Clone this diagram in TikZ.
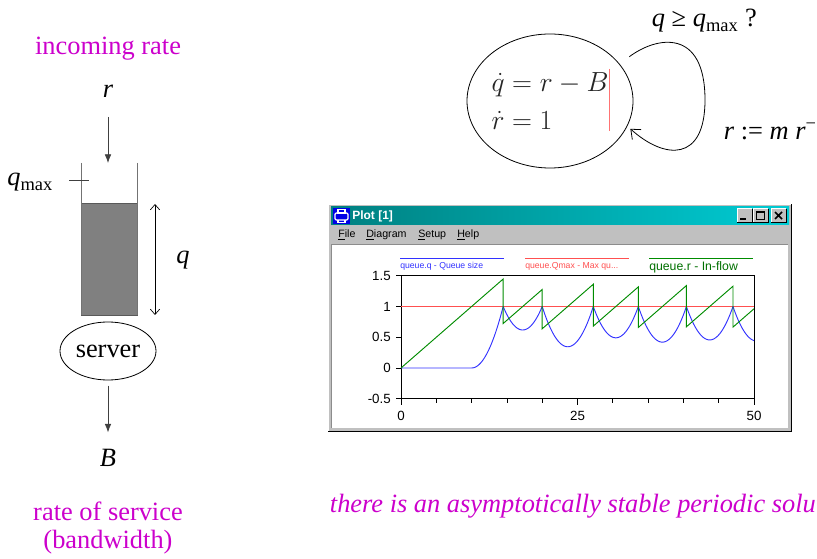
\documentclass[tikz,border=0pt]{standalone}
\usepackage[no-math]{fontspec}
\setmainfont{Liberation Serif}
\newfontfamily\uifont{Liberation Sans}
\usetikzlibrary{arrows.meta, positioning, shapes.geometric}
\definecolor{slidemag}{RGB}{204,0,204}
\definecolor{wingray}{RGB}{192,192,192}
\definecolor{titleteal}{RGB}{0,128,128}
\definecolor{titlecyan}{RGB}{0,204,212}
\definecolor{iconblue}{RGB}{0,0,230}
\definecolor{plotblue}{RGB}{50,50,255}
\definecolor{plotred}{RGB}{255,80,80}
\definecolor{plotgreen}{RGB}{0,140,0}
\newcommand{\bigtxt}{\fontsize{19.8}{21}\selectfont}
\newcommand{\eqtxt}{\fontsize{20.74}{29}\selectfont}

\begin{document}
\begin{tikzpicture}[x=0.75pt, y=-0.75pt,
    lbl/.style={text=slidemag, font=\bigtxt, inner sep=2pt, align=center},
    txt/.style={font=\bigtxt, inner sep=2pt},
    arr/.style={-{Latex[length=6.5pt, width=5pt]}, draw=black!75, line width=0.6pt},
    dbl/.style={{Straight Barb[length=4pt, width=7pt]}-{Straight Barb[length=4pt, width=7pt]}, line width=0.5pt},
    looparr/.style={-{Straight Barb[length=6pt, width=10pt]}, line width=0.6pt},
    wall/.style={draw=black!55, line width=0.7pt},
    ui/.style={font=\uifont\fontsize{8}{9}\selectfont, inner sep=0pt, anchor=west},
    tick/.style={font=\uifont\fontsize{10}{11}\selectfont, inner sep=1pt},
    legtxt/.style={font=\uifont\fontsize{6.5}{7}\selectfont, inner sep=0pt, anchor=west},
    btn/.style={fill=wingray}
  ]
  \useasboundingbox (0,0) rectangle (817,559);
  \clip (0,0) rectangle (817,559);
  \fill[white] (0,0) rectangle (817,559);

  % queue and server
  \node[lbl, anchor=base] (inlbl) at (108,55) {incoming rate};
  \node[txt, anchor=base] (rin) at (108,98) {\textit{r}};
  \fill[black!50, draw=black!65, line width=0.5pt] (81,203) rectangle (137,315);
  \draw[wall] (81,163) -- (81,315) (137,163) -- (137,315);
  \coordinate (tanktop) at (108,163);
  \draw[arr, shorten <=12pt] (rin) -- (tanktop);
  \draw[line width=0.6pt, draw=black!75] (69,180) -- (89,180);
  \node[txt, anchor=base east] (qmaxlbl) at (56,186) {\textit{q}\textsubscript{max}};
  \coordinate (qtop) at (155,204);
  \coordinate (qbot) at (155,315);
  \draw[dbl] (qtop) -- (qbot);
  \node[txt] (qlbl) at (183,260) {\textit{q}};
  \node[txt, draw, ellipse, minimum width=72pt, minimum height=43.5pt, inner sep=0pt, line width=0.6pt] (srv) at (108,351) {server};
  \node[txt, anchor=base] (bout) at (108,466) {\textit{B}};
  \draw[arr, shorten <=4pt, shorten >=10pt] (srv) -- (bout);
  \node[lbl, anchor=base] (servlbl) at (108,548) {rate of service\\(bandwidth)};

  % hybrid automaton
  \node[draw, ellipse, minimum width=124.5pt, minimum height=100.5pt, inner sep=0pt, line width=0.6pt, align=left, font=\eqtxt, text=black!85] (eqn) at (550,101) {$\dot q = r - B$\\$\dot r = 1$};
  \draw[plotred!80, line width=0.6pt] (609,69) -- (609,131);
  \draw[looparr, shorten <=9pt, shorten >=3pt] (eqn.28) .. controls (657,36) and (705,28) .. (705,100) .. controls (705,162) and (665,160) .. (eqn.-18);
  \node[txt, anchor=base west] (guard) at (649,27) {\textit{q} ≥ \textit{q}\textsubscript{max} ?};
  \node[txt, anchor=base west] (reset) at (721,140) {\textit{r} := \textit{m r}\textsuperscript{−}};

  % plot window
  \fill[wingray] (328,204) rectangle (792,432);
  \draw[white, line width=0.75pt] (328.5,431) -- (328.5,204.5) -- (791,204.5);
  \draw[black, line width=0.75pt] (328,431.5) -- (791.5,431.5) -- (791.5,204);
  \shade[left color=titleteal, right color=titlecyan] (331,207) rectangle (789,225);
  \fill[iconblue] (333,208) rectangle (350,224);
  \draw[white, line width=0.9pt, rounded corners=1pt] (335,213) rectangle (348,220);
  \draw[white, line width=0.8pt] (338,209.5) rectangle (345,213) (338,220) -- (338,222.5) -- (345,222.5) -- (345,220);
  \node[anchor=west, inner sep=0pt, text=white, font=\uifont\bfseries\fontsize{9}{10}\selectfont] (wtitle) at (352,216) {Plot [1]};
  \foreach \bx in {737,753,771} {
    \fill[btn] (\bx,209) rectangle (\bx+15,223);
    \draw[white, line width=0.75pt] (\bx,223) -- (\bx,209) -- (\bx+15,209);
    \draw[black, line width=0.75pt] (\bx+15,209) -- (\bx+15,223) -- (\bx,223);
  }
  \draw[black, line width=1.5pt] (740,219.5) -- (746,219.5);
  \draw[black, line width=0.75pt] (756.5,212) rectangle (764.5,220);
  \draw[black, line width=1.5pt] (756.5,212.5) -- (764.5,212.5);
  \draw[black, line width=1.2pt] (775,212) -- (782,219) (775,219) -- (782,212);
  \node[ui] (mfile) at (338,235) {\underline{F}ile};
  \node[ui] (mdiag) at (366,235) {\underline{D}iagram};
  \node[ui] (msetup) at (418,235) {\underline{S}etup};
  \node[ui] (mhelp) at (457,235) {\underline{H}elp};
  \fill[white] (331,245) rectangle (788,428);
  \draw[black!45, line width=0.75pt] (331,428) -- (331,245) -- (788,245);

  % legend
  \draw[plotblue, line width=0.6pt] (400,258) -- (504,258);
  \node[legtxt, text=plotblue] (legq) at (400,266) {queue.q - Queue size};
  \draw[plotred, line width=0.6pt] (525,258) -- (629,258);
  \node[legtxt, text=plotred] (legmax) at (525,266) {queue.Qmax - Max qu...};
  \draw[plotgreen, line width=0.6pt] (649,258) -- (753,258);
  \node[legtxt, text=plotgreen!80!black, font=\uifont\fontsize{9.2}{10}\selectfont] (legr) at (649,267) {queue.r - In-flow};

  % curves
  \begin{scope}[shift={(401,368)}, x=5.295pt, y=46.125pt]
    \draw[black, line width=0.6pt] (0,-0.5) rectangle (50,1.5);
    \foreach \v in {-0.5,0,0.5,1,1.5} {
      \draw[line width=0.6pt] (0,\v) -- ++(-4pt,0);
      \node[tick, anchor=east, xshift=-6.5pt] (yl\v) at (0,\v) {\v};
    }
    \foreach \t in {5,10,...,45} \draw[line width=0.6pt] (\t,-0.5) -- ++(0,-3pt);
    \foreach \t in {0,25,50} {
      \draw[line width=0.6pt] (\t,-0.5) -- ++(0,-5pt);
      \node[tick, anchor=north, yshift=-8.5pt] (xl\t) at (\t,-0.5) {\t};
    }
    \draw[plotred, line width=0.7pt] (0,1) -- (50,1);
    \draw[plotblue, line width=0.7pt] (0,0) -- (10,0) -- plot[domain=10:14.472, samples=25] (\x, {0.05*(\x-10)*(\x-10)});
    \foreach \tz/\rz/\sz in {14.472/0.7236/5.528, 20.0/0.6382/7.236, 27.236/0.6809/6.382, 33.618/0.65955/6.809, 40.427/0.67023/6.5955, 47.022/0.66489/2.978} {
      \draw[plotblue, line width=0.7pt] plot[domain=0:\sz, samples=40] ({\tz+\x}, {1-(1-\rz)*\x+0.05*\x*\x});
    }
    \draw[plotgreen, line width=0.7pt] (0,0) -- (14.472,1.4472) -- (14.472,0.7236) -- (20.0,1.2764) -- (20.0,0.6382) -- (27.236,1.3618) -- (27.236,0.6809) -- (33.618,1.3191) -- (33.618,0.65955) -- (40.427,1.34045) -- (40.427,0.67023) -- (47.022,1.32978) -- (47.022,0.66489) -- (50,0.96269);
  \end{scope}

  \node[lbl, font=\bigtxt\itshape, anchor=base west] (concl) at (327,512) {there is an asymptotically stable periodic solution};
\end{tikzpicture}
\end{document}
